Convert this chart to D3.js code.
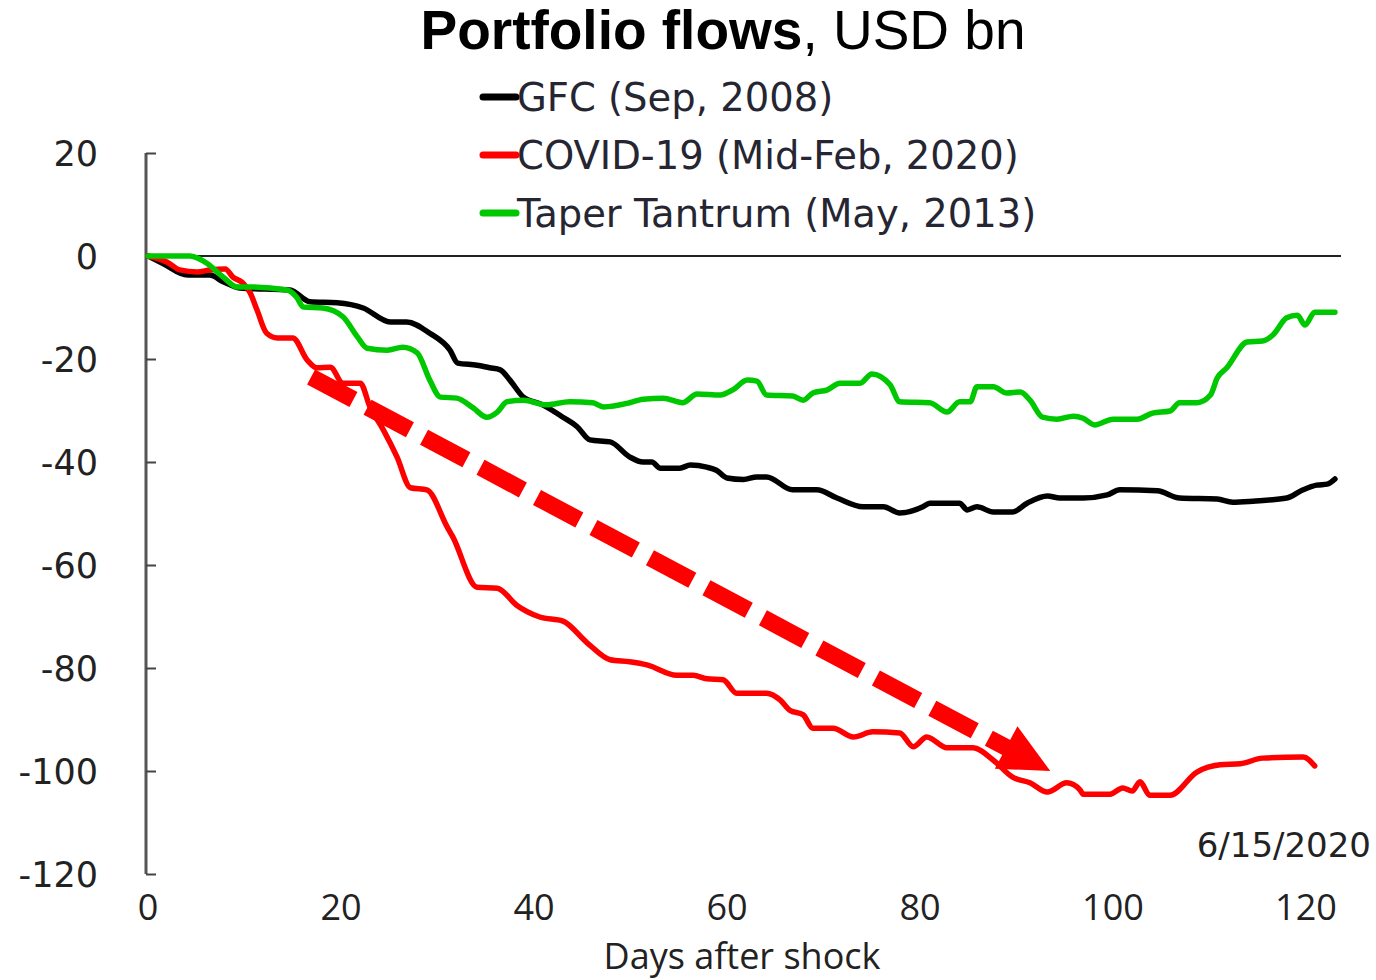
<!DOCTYPE html>
<html>
<head>
<meta charset="utf-8">
<script src="https://cdn.jsdelivr.net/npm/d3@7"></script>
<style>
  html, body { margin: 0; padding: 0; background: #fff; }
  svg { display: block; }
  .ylab { font-family: "DejaVu Sans", Verdana, sans-serif; font-size: 35px; fill: #222; }
  .xlab { font-family: "Open Sans", sans-serif; font-size: 36px; fill: #222; }
  .leg { font-family: "DejaVu Sans", Verdana, sans-serif; font-size: 38.5px; fill: #262633; }
</style>
</head>
<body>
<svg id="chart" width="1376" height="980"></svg>
<script>
// Portfolio flows after three shocks, cumulative USD bn vs days after shock.
const seriesNames = ["GFC (Sep, 2008)", "COVID-19 (Mid-Feb, 2020)", "Taper Tantrum (May, 2013)"];
const seriesColors = ["#000000", "#ff0000", "#00c800"];

// [day, value] pairs
const gfc = [
  [0, 0], [1.5, -1.4], [4.1, -3.7], [6.4, -3.7], [7.8, -5.0], [9.5, -6.2], [14.7, -6.6],
  [16.8, -8.9], [19.6, -9.1], [22.3, -10.1], [25.1, -12.8], [26.8, -12.8], [29.2, -15.0],
  [31.3, -18.3], [32.1, -20.8], [34.1, -21.2], [35.4, -21.7], [36.5, -22.1], [37.5, -24.1],
  [38.9, -27.4], [40.9, -28.9], [43.0, -31.3], [44.5, -33.2], [45.8, -35.7], [47.9, -36.1],
  [49.9, -39.0], [51.3, -40.0], [52.2, -40.0], [53.1, -41.2], [55.1, -41.2], [56.2, -40.6],
  [57.9, -41.0], [58.9, -41.6], [60.0, -43.1], [61.7, -43.4], [63.1, -42.9], [64.1, -42.9],
  [66.8, -45.4], [69.3, -45.4], [71.4, -47.0], [74.1, -48.7], [76.2, -48.7], [77.9, -49.9],
  [80.3, -48.7], [81.0, -48.0], [84.1, -48.0], [84.9, -49.3], [85.9, -48.7], [87.6, -49.7],
  [89.6, -49.7], [91.1, -48.0], [93.2, -46.6], [94.5, -47.0], [96.9, -47.0], [99.4, -46.4],
  [100.7, -45.4], [104.6, -45.6], [106.9, -47.0], [110.8, -47.2], [112.4, -47.8],
  [114.5, -47.6], [118.0, -47.0], [119.7, -45.4], [121.1, -44.5], [122.2, -44.3], [123.0, -43.3]
];
const covid = [
  [0, 0], [2.0, -1.2], [3.3, -2.7], [5.1, -3.1], [6.4, -2.7], [8.0, -2.5], [8.8, -4.1],
  [9.8, -5.2], [10.6, -7.2], [11.3, -10.5], [12.3, -15.0], [13.4, -15.9], [15.0, -15.9],
  [16.5, -20.2], [17.5, -21.7], [18.9, -21.6], [20.2, -24.7], [22.0, -24.7], [23.0, -29.3],
  [24.4, -33.8], [25.8, -39.0], [27.2, -45.0], [28.9, -45.4], [31.0, -52.6], [31.6, -54.6],
  [34.1, -64.3], [36.2, -64.5], [38.2, -67.8], [40.6, -70.1], [43.0, -70.9], [45.5, -75.1],
  [47.9, -78.4], [49.9, -78.8], [51.7, -79.4], [54.8, -81.4], [56.5, -81.4], [57.9, -82.1],
  [59.6, -82.3], [61.0, -84.9], [64.1, -84.9], [65.5, -86.2], [66.5, -88.2], [67.9, -89.1],
  [68.9, -91.7], [71.0, -91.7], [73.1, -93.4], [75.1, -92.4], [77.9, -92.6], [79.3, -95.3],
  [80.7, -93.4], [82.8, -95.5], [85.5, -95.5], [87.6, -97.9], [89.6, -101.2], [91.4, -102.3],
  [93.2, -104.1], [95.2, -102.3], [96.6, -103.7], [96.9, -104.5], [99.7, -104.5],
  [101.0, -103.3], [102.0, -103.9], [102.8, -102.1], [103.8, -104.7], [105.9, -104.7],
  [108.7, -100.2], [111.1, -98.8], [113.2, -98.6], [115.5, -97.5], [119.7, -97.3], [120.9, -99.0]
];
const taper = [
  [0, 0], [4.35, 0], [6.1, -1.4], [7.8, -4.1], [9.2, -6.0], [10.6, -6.0], [14.4, -6.6],
  [15.4, -8.0], [16.1, -9.9], [18.1, -10.1], [20.2, -11.8], [21.7, -15.7], [22.7, -17.9],
  [24.8, -18.3], [26.4, -17.7], [27.9, -18.8], [29.2, -24.1], [30.3, -27.4], [32.0, -27.6],
  [33.7, -29.5], [35.1, -31.3], [36.2, -30.3], [37.2, -28.3], [38.9, -28.0], [41.3, -28.9],
  [43.7, -28.3], [46.1, -28.5], [47.2, -29.3], [49.9, -28.5], [51.3, -27.8], [53.4, -27.6],
  [55.4, -28.5], [56.9, -26.8], [59.3, -27.0], [60.6, -26.0], [62.1, -24.1], [63.1, -24.3],
  [64.1, -27.0], [66.8, -27.2], [67.9, -28.0], [68.9, -26.6], [70.4, -26.0], [71.7, -24.7],
  [73.8, -24.7], [75.0, -22.9], [76.9, -25.0], [77.9, -28.3], [81.0, -28.5], [82.8, -30.3],
  [84.1, -28.3], [85.2, -28.3], [85.9, -25.4], [87.6, -25.4], [89.0, -26.6], [90.4, -26.4],
  [91.4, -28.0], [92.7, -31.3], [94.2, -31.7], [95.9, -31.1], [96.9, -31.5], [98.1, -32.8],
  [100.0, -31.7], [102.5, -31.7], [104.1, -30.5], [105.9, -30.1], [106.9, -28.5],
  [108.7, -28.5], [110.1, -27.0], [110.8, -23.7], [111.8, -21.7], [113.9, -16.7],
  [115.5, -16.5], [116.6, -15.3], [118.0, -12.0], [119.1, -11.5], [119.9, -13.4],
  [120.9, -10.9], [123.0, -10.9]
];
const seriesData = [gfc, covid, taper];

const xTicks = [0, 20, 40, 60, 80, 100, 120];
const yTicks = [20, 0, -20, -40, -60, -80, -100, -120];
// trend arrow, from and to, in [day, value]
const arrowFrom = [16.9, -23.5];
const arrowTo = [93.5, -100];
const dateNote = "6/15/2020";

const svg = d3.select("#chart");

const x = d3.scaleLinear().domain([0, 120]).range([148, 1306]);
const y = d3.scaleLinear().domain([-120, 20]).range([874, 153]);

// title: bold part + regular part
const title = svg.append("text")
  .attr("x", 723).attr("y", 49)
  .attr("text-anchor", "middle")
  .style("font-family", "'Liberation Sans', Arial, sans-serif")
  .style("font-size", "55px")
  .style("fill", "#000");
title.append("tspan").style("font-weight", "bold").text("Portfolio flows");
title.append("tspan").text(", USD bn");

// legend
const leg = svg.append("g");
seriesNames.forEach((name, i) => {
  const cy = 97 + i * 58;
  leg.append("line")
    .attr("x1", 483).attr("x2", 516).attr("y1", cy).attr("y2", cy)
    .attr("stroke", seriesColors[i]).attr("stroke-width", 7)
    .attr("stroke-linecap", "round");
  leg.append("text").attr("class", "leg")
    .attr("x", 517).attr("y", cy + 14)
    .text(name);
});

// y axis: left line with inward ticks
const yAxis = svg.append("g").attr("transform", "translate(146,0)")
  .call(d3.axisRight(y).tickValues(yTicks).tickSize(10).tickFormat(""));
yAxis.select(".domain").attr("stroke", "#555").attr("stroke-width", 3)
  .attr("d", `M0,${y(20)}V${y(-120)}`);
yAxis.selectAll(".tick line").attr("stroke", "#444").attr("stroke-width", 2);

svg.append("g").selectAll("text")
  .data(yTicks)
  .join("text")
  .attr("class", "ylab")
  .attr("x", 98).attr("y", (d) => y(d))
  .attr("dy", "0.36em")
  .attr("text-anchor", "end")
  .text((d) => d);

// x tick labels (no x axis line in the original)
svg.append("g").selectAll("text")
  .data(xTicks)
  .join("text")
  .attr("class", "xlab")
  .attr("x", (d) => x(d)).attr("y", 920)
  .attr("text-anchor", "middle")
  .text((d) => d);

svg.append("text").attr("class", "xlab")
  .attr("x", 742).attr("y", 969)
  .attr("text-anchor", "middle")
  .style("font-size", "36px")
  .text("Days after shock");

// zero line
svg.append("line")
  .attr("x1", 146).attr("x2", 1341)
  .attr("y1", y(0)).attr("y2", y(0))
  .attr("stroke", "#222").attr("stroke-width", 2);

// series
const line = d3.line()
  .x((d) => x(d[0]))
  .y((d) => y(d[1]))
  .curve(d3.curveMonotoneX);

svg.append("g").selectAll("path")
  .data(seriesData)
  .join("path")
  .attr("d", line)
  .attr("fill", "none")
  .attr("stroke", (d, i) => seriesColors[i])
  .attr("stroke-width", 5.5)
  .attr("stroke-linejoin", "round")
  .attr("stroke-linecap", "round");

// date note
svg.append("text").attr("class", "ylab")
  .attr("x", 1371).attr("y", 857)
  .attr("text-anchor", "end")
  .style("font-size", "34px")
  .text(dateNote);

// dashed trend arrow
const ax0 = x(arrowFrom[0]), ay0 = y(arrowFrom[1]);
const ax1 = x(arrowTo[0]), ay1 = y(arrowTo[1]);
const len = Math.hypot(ax1 - ax0, ay1 - ay0);
const ux = (ax1 - ax0) / len, uy = (ay1 - ay0) / len;
const headLen = 50, headHalf = 24;
const bx = ax1 - ux * headLen, by = ay1 - uy * headLen;

svg.append("line")
  .attr("x1", ax0).attr("y1", ay0)
  .attr("x2", bx + ux * 4).attr("y2", by + uy * 4)
  .attr("stroke", "#ff0000").attr("stroke-width", 17)
  .attr("stroke-dasharray", "48,16");

svg.append("polygon")
  .attr("points", [
    [ax1, ay1],
    [bx - uy * headHalf, by + ux * headHalf],
    [bx + uy * headHalf, by - ux * headHalf]
  ].map((p) => p.join(",")).join(" "))
  .attr("fill", "#ff0000");
</script>
</body>
</html>
